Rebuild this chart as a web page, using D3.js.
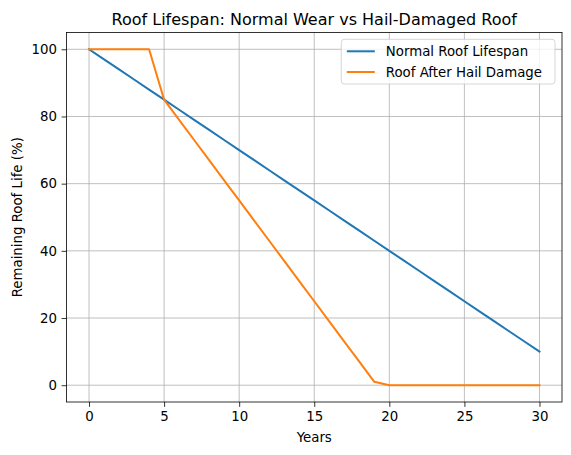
<!DOCTYPE html>
<html>
<head>
<meta charset="utf-8">
<script src="https://cdn.jsdelivr.net/npm/d3@7"></script>
<style>
body { margin: 0; background: #fff; }
text { font-family: "DejaVu Sans", sans-serif; fill: #000; }
</style>
</head>
<body>
<svg id="chart"></svg>
<script>
const years = [0,1,2,3,4,5,6,7,8,9,10,11,12,13,14,15,16,17,18,19,20,21,22,23,24,25,26,27,28,29,30];
const normalLife = [100,97,94,91,88,85,82,79,76,73,70,67,64,61,58,55,52,49,46,43,40,37,34,31,28,25,22,19,16,13,10];
const hailLife = [100,100,100,100,100,85,79,73,67,61,55,49,43,37,31,25,19,13,7,1,0,0,0,0,0,0,0,0,0,0,0];
const seriesNames = ["Normal Roof Lifespan", "Roof After Hail Damage"];
const seriesColors = ["#1f77b4", "#ff7f0e"];
const xTicks = [0, 5, 10, 15, 20, 25, 30];
const yTicks = [0, 20, 40, 60, 80, 100];

const W = 571, H = 455;
const margin = { top: 32.5, right: 9, bottom: 53, left: 66.5 };
const width = W - margin.left - margin.right,
      height = H - margin.top - margin.bottom;

const root = d3.select("#chart").attr("width", W).attr("height", H);
const svg = root.append("g")
    .attr("transform", `translate(${margin.left},${margin.top})`);

const x = d3.scaleLinear().domain([-1.5, 31.5]).range([0, width]);
const y = d3.scaleLinear().domain([-5, 105]).range([height, 0]);

// grid
svg.selectAll(".gx").data(xTicks).join("line")
    .attr("x1", d => x(d)).attr("x2", d => x(d))
    .attr("y1", 0).attr("y2", height)
    .attr("stroke", "#b0b0b0").attr("stroke-width", 0.8);
svg.selectAll(".gy").data(yTicks).join("line")
    .attr("x1", 0).attr("x2", width)
    .attr("y1", d => y(d)).attr("y2", d => y(d))
    .attr("stroke", "#b0b0b0").attr("stroke-width", 0.8);

// axes
const xAxis = svg.append("g")
    .attr("transform", `translate(0,${height})`)
    .call(d3.axisBottom(x).tickValues(xTicks).tickSize(4.9).tickPadding(4.7));
const yAxis = svg.append("g")
    .call(d3.axisLeft(y).tickValues(yTicks).tickSize(4.9).tickPadding(4.7));
[xAxis, yAxis].forEach(a => {
    a.select(".domain").remove();
    a.selectAll("line").attr("stroke", "#000").attr("stroke-width", 0.8);
    a.selectAll("text").style("font-size", "13.33px").style("font-family", "DejaVu Sans");
});

// frame
svg.append("rect")
    .attr("width", width).attr("height", height)
    .attr("fill", "none").attr("stroke", "#000").attr("stroke-width", 0.8);

// lines
const line = d3.line().x((d, i) => x(years[i])).y(d => y(d));
[normalLife, hailLife].forEach((s, i) => {
    svg.append("path")
        .datum(s)
        .attr("d", line)
        .attr("fill", "none")
        .attr("stroke", seriesColors[i])
        .attr("stroke-width", 2)
        .attr("stroke-linejoin", "round")
        .attr("stroke-linecap", "square");
});

// labels
svg.append("text")
    .attr("x", width / 2).attr("y", -8)
    .attr("text-anchor", "middle")
    .style("font-size", "16px")
    .text("Roof Lifespan: Normal Wear vs Hail-Damaged Roof");

svg.append("text")
    .attr("x", width / 2).attr("y", height + 40)
    .attr("text-anchor", "middle")
    .style("font-size", "13.33px")
    .text("Years");

svg.append("text")
    .attr("transform", `translate(${-45},${height / 2}) rotate(-90)`)
    .attr("text-anchor", "middle")
    .style("font-size", "13.33px")
    .text("Remaining Roof Life (%)");

// legend
const lg = svg.append("g").attr("transform", `translate(${341.3 - margin.left},${39.3 - margin.top})`);
lg.append("rect")
    .attr("width", 213.7).attr("height", 44.7)
    .attr("rx", 3)
    .attr("fill", "#fff").attr("fill-opacity", 0.8)
    .attr("stroke", "#cccccc").attr("stroke-width", 0.8);
seriesNames.forEach((name, i) => {
    const yy = 12 + i * 20.7;
    lg.append("line")
        .attr("x1", 5.5).attr("x2", 33.5)
        .attr("y1", yy).attr("y2", yy)
        .attr("stroke", seriesColors[i]).attr("stroke-width", 2);
    lg.append("text")
        .attr("x", 44.5).attr("y", yy + 4.7)
        .style("font-size", "13.33px")
        .text(name);
});
</script>
</body>
</html>
